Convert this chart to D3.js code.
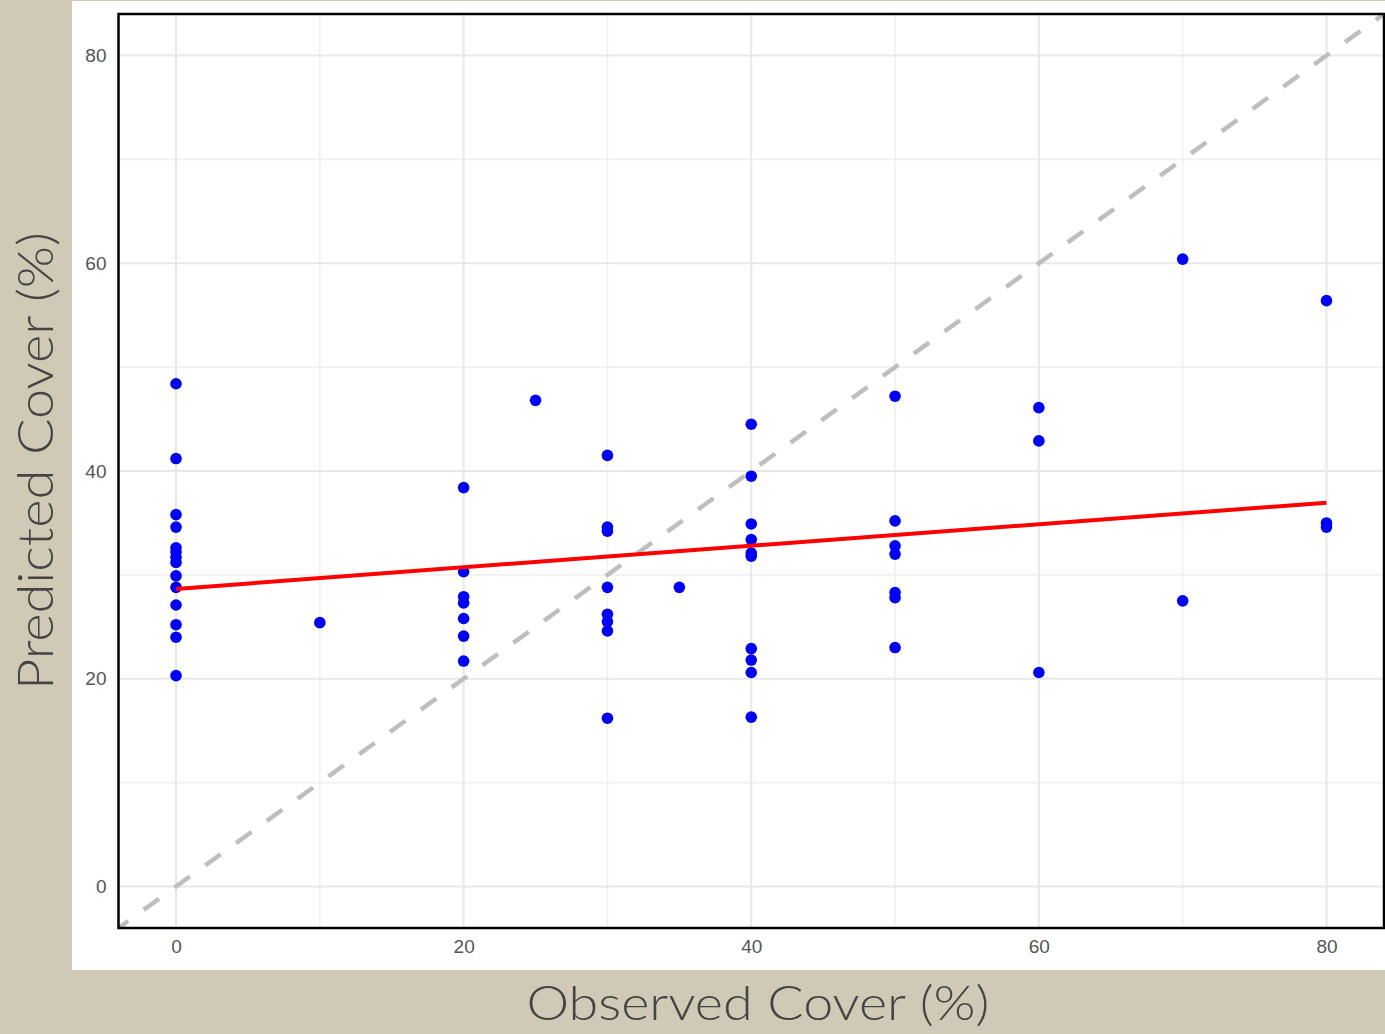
<!DOCTYPE html>
<html>
<head>
<meta charset="utf-8">
<script src="https://cdn.jsdelivr.net/npm/d3@7"></script>
<style>
  html, body { margin: 0; padding: 0; background: #cfc9b5; }
  svg { display: block; }
</style>
</head>
<body>
<svg id="chart" width="1385" height="1034"></svg>
<script>
// ---- Data ----
const observed = [
  0,0,0,0,0,0,0,0,0,0,0,0,0,0,
  10,
  20,20,20,20,20,20,20,
  25,
  30,30,30,30,30,30,30,30,
  35,
  40,40,40,40,40,40,40,40,40,40,
  50,50,50,50,50,50,50,
  60,60,60,
  70,70,
  80,80,80
];
const predicted = [
  48.4,41.2,35.8,34.6,32.6,32.2,31.7,31.2,29.9,28.8,27.1,25.2,24.0,20.3,
  25.4,
  38.4,30.3,27.9,27.3,25.8,24.1,21.7,
  46.8,
  41.5,34.6,34.2,28.8,26.2,25.5,24.6,16.2,
  28.8,
  44.5,39.5,34.9,33.4,32.1,31.8,22.9,21.8,20.6,16.3,
  47.2,35.2,32.8,32.0,28.3,27.8,23.0,
  46.1,42.9,20.6,
  60.4,27.5,
  56.4,35.0,34.6
];
const fitX = [0, 80];
const fitY = [28.65, 36.95];
const identityLine = [-4, 84];
const majorTicks = [0, 20, 40, 60, 80];
const minorTicks = [10, 30, 50, 70];
const xTitle = "Observed Cover (%)";
const yTitle = "Predicted Cover (%)";

// ---- Layout ----
const svg = d3.select("#chart");
const W = 1385, H = 1034;
const pL = 118.5, pR = 1384, pT = 14, pB = 928;

svg.append("rect").attr("x", 0).attr("y", 0).attr("width", W).attr("height", H).attr("fill", "#cfc9b5");
svg.append("rect").attr("x", 72).attr("y", 1).attr("width", W - 72).attr("height", 969).attr("fill", "#ffffff");

const x = d3.scaleLinear().domain([-4, 84]).range([pL, pR]);
const y = d3.scaleLinear().domain([-4, 84]).range([pB, pT]);

svg.append("defs").append("clipPath").attr("id", "clip")
  .append("rect").attr("x", pL).attr("y", pT).attr("width", pR - pL).attr("height", pB - pT);

// gridlines
const grid = svg.append("g").attr("clip-path", "url(#clip)");
grid.selectAll(".vminor").data(minorTicks).enter().append("line")
  .attr("x1", d => x(d)).attr("x2", d => x(d)).attr("y1", pT).attr("y2", pB)
  .attr("stroke", "#f0f0f0").attr("stroke-width", 1.6);
grid.selectAll(".hminor").data(minorTicks).enter().append("line")
  .attr("y1", d => y(d)).attr("y2", d => y(d)).attr("x1", pL).attr("x2", pR)
  .attr("stroke", "#f0f0f0").attr("stroke-width", 1.6);
grid.selectAll(".vmajor").data(majorTicks).enter().append("line")
  .attr("x1", d => x(d)).attr("x2", d => x(d)).attr("y1", pT).attr("y2", pB)
  .attr("stroke", "#e8e8e8").attr("stroke-width", 2);
grid.selectAll(".hmajor").data(majorTicks).enter().append("line")
  .attr("y1", d => y(d)).attr("y2", d => y(d)).attr("x1", pL).attr("x2", pR)
  .attr("stroke", "#e8e8e8").attr("stroke-width", 2);

// identity dashed line
const plot = svg.append("g").attr("clip-path", "url(#clip)");
plot.append("line")
  .attr("x1", x(identityLine[0])).attr("y1", y(identityLine[0]))
  .attr("x2", x(identityLine[1])).attr("y2", y(identityLine[1]))
  .attr("stroke", "#bebebe").attr("stroke-width", 4.5)
  .attr("stroke-dasharray", "19,19").attr("stroke-dashoffset", 7);

// points
plot.selectAll("circle").data(observed.map((d, i) => [d, predicted[i]])).enter().append("circle")
  .attr("cx", d => x(d[0])).attr("cy", d => y(d[1])).attr("r", 5.8).attr("fill", "#0000ff");

// regression line
plot.append("path")
  .datum(fitX.map((d, i) => [d, fitY[i]]))
  .attr("d", d3.line().x(d => x(d[0])).y(d => y(d[1])))
  .attr("stroke", "#ff0000").attr("stroke-width", 4).attr("fill", "none");

// border
svg.append("rect").attr("x", pL).attr("y", pT).attr("width", pR - pL).attr("height", pB - pT)
  .attr("fill", "none").attr("stroke", "#000").attr("stroke-width", 2.5);

// axes
const xAxis = svg.append("g").attr("transform", `translate(0,${pB})`)
  .call(d3.axisBottom(x).tickValues(majorTicks).tickSize(0).tickPadding(12).tickFormat(d3.format("d")));
xAxis.select(".domain").remove();
xAxis.selectAll("text").attr("font-family", "Liberation Sans, Arial, sans-serif").attr("font-size", 19).attr("fill", "#555555");

const yAxis = svg.append("g").attr("transform", `translate(${pL},0)`)
  .call(d3.axisLeft(y).tickValues(majorTicks).tickSize(0).tickPadding(12).tickFormat(d3.format("d")));
yAxis.select(".domain").remove();
yAxis.selectAll("text").attr("font-family", "Liberation Sans, Arial, sans-serif").attr("font-size", 19).attr("fill", "#555555");

// titles
svg.append("text").text(xTitle)
  .attr("x", 758).attr("y", 1020).attr("text-anchor", "middle")
  .attr("font-family", "Lato, 'Noto Sans', sans-serif").attr("font-weight", 300)
  .attr("font-size", 48).attr("fill", "#444444")
  .attr("textLength", 463).attr("lengthAdjust", "spacingAndGlyphs");

svg.append("text").text(yTitle)
  .attr("transform", "translate(53,461) rotate(-90)").attr("text-anchor", "middle")
  .attr("font-family", "Lato, 'Noto Sans', sans-serif").attr("font-weight", 300)
  .attr("font-size", 50).attr("fill", "#444444")
  .attr("textLength", 458).attr("lengthAdjust", "spacingAndGlyphs");
</script>
</body>
</html>
